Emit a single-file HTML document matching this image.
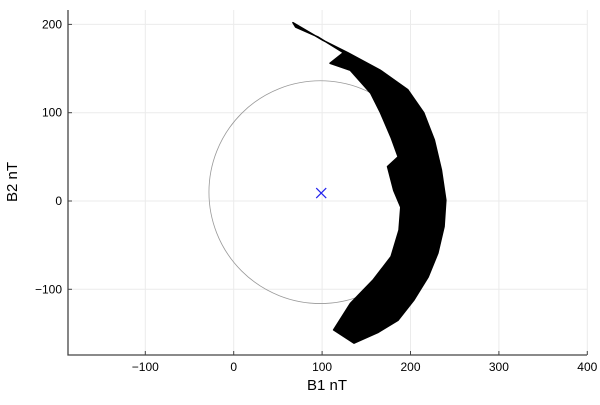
<!DOCTYPE html>
<html><head><meta charset="utf-8"><style>
body{margin:0;background:#fff}
svg text{font-family:"Liberation Sans","DejaVu Sans",sans-serif;}
</style></head><body>
<svg id="chart" width="600" height="400" viewBox="0 0 600 400">
<g id="grid"></g>
<g id="plot"></g>
<g id="axes"></g>
<text x="327" y="390" text-anchor="middle" font-size="15">B1 nT</text>
<text x="0" y="0" text-anchor="middle" font-size="15" transform="translate(17,182) rotate(-90)">B2 nT</text>
</svg>
<script>
const xTicks=[-100,0,100,200,300,400];
const yTicks=[-100,0,100,200];
const outerX=[67,101,129,166,197,215,227,235,240,238,231,220,204,186,163,136];
const outerY=[202,182,168,148,126,100,69,35,1,-29,-59,-86,-112,-135,-149,-161];
const innerX=[113,132,158,178,187,189,181,174,186,178,166,155,132,109,124,95,70];
const innerY=[-146,-116,-89,-63,-33,-7,12,39,50,72,100,122,148,156,168,186,197];
const circleCenter=[98,10];
const circleRadius=[126];
const centerMarker=[99,9];

const L=68,R=587,T=10,B=355;
const sx=v=>233.7+v*0.884;
const sy=v=>201-v*0.883;
const NS="http://www.w3.org/2000/svg";
function mk(tag,attrs,parent){const e=document.createElementNS(NS,tag);for(const k in attrs)e.setAttribute(k,attrs[k]);parent.appendChild(e);return e;}
const grid=document.getElementById('grid'),plot=document.getElementById('plot'),axes=document.getElementById('axes');
xTicks.forEach(t=>{
  const g=mk('line',{x1:sx(t),x2:sx(t),y1:T,y2:B,stroke:'#ebebeb','stroke-width':1},grid);
  
  
  const tk=mk('line',{x1:sx(t),x2:sx(t),y1:B,y2:B-4,stroke:'#444'},axes);
  
  
  const lb=mk('text',{x:sx(t),y:371,'text-anchor':'middle','font-size':12},axes);
  lb.textContent=(t<0?'\u2212'+(-t):t);
  
  
});
yTicks.forEach(t=>{
  const g=mk('line',{x1:L,x2:R,y1:sy(t),y2:sy(t),stroke:'#ebebeb','stroke-width':1},grid);
  
  
  const tk=mk('line',{x1:L,x2:L+4,y1:sy(t),y2:sy(t),stroke:'#444'},axes);
  
  
  const lb=mk('text',{x:62,y:sy(t)+4,'text-anchor':'end','font-size':12},axes);
  lb.textContent=(t<0?'\u2212'+(-t):t);
  
  
});
const ax=mk('path',{d:`M${L},${T} V${B} H${R}`,fill:'none',stroke:'#444','stroke-width':1.3},axes);


const c=mk('circle',{cx:sx(circleCenter[0]),cy:sy(circleCenter[1]),r:circleRadius[0]*0.884,fill:'none',stroke:'#999','stroke-width':0.8},plot);


let pts=outerX.map((x,i)=>sx(x)+','+sy(outerY[i])).concat(innerX.map((x,i)=>sx(x)+','+sy(innerY[i])));
const poly=mk('polygon',{points:pts.join(' '),fill:'#000',stroke:'#000','stroke-width':1.5,'stroke-linejoin':'round'},plot);


const mx=sx(centerMarker[0]),my=sy(centerMarker[1]);
const m=mk('path',{d:`M${mx-5},${my-5}L${mx+5},${my+5}M${mx-5},${my+5}L${mx+5},${my-5}`,stroke:'#2222ee','stroke-width':1.2},plot);


</script>
</body></html>
